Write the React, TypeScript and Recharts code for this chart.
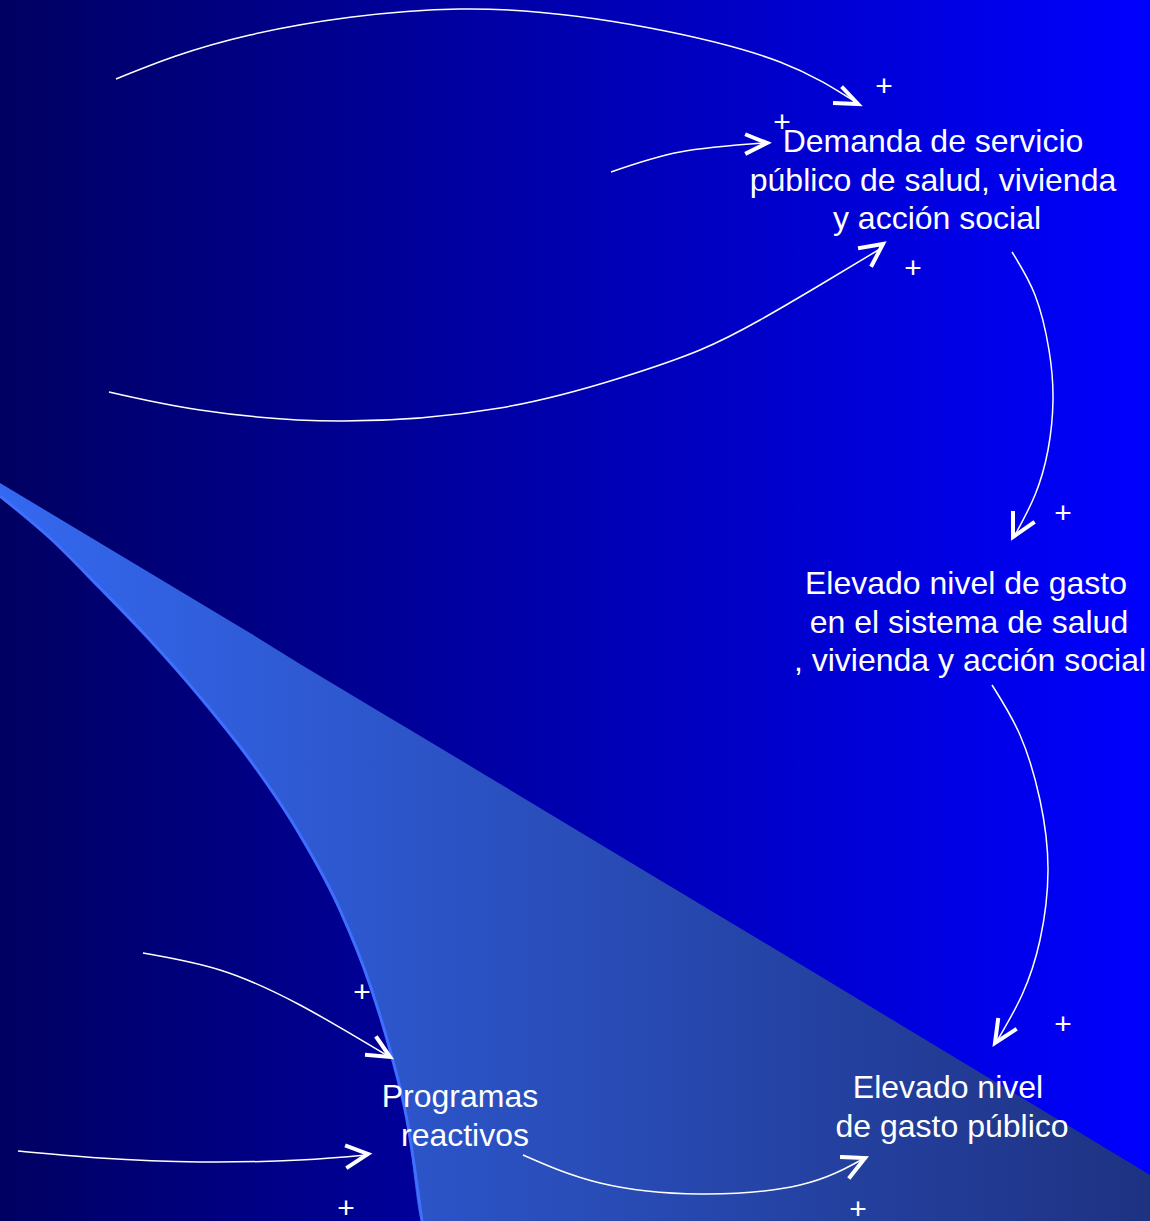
import React from 'react';
import { ComposedChart, Area, Line, Scatter, XAxis, YAxis } from 'recharts';

// wedge: x, top edge, bottom edge (px of the picture)
const wedgeX = [0, 50, 100, 150, 200, 250, 300, 340, 370, 390, 407, 422, 1150];
const wedgeTop = [483, 513, 543, 573, 603, 633, 664, 688, 706, 718, 728, 737, 1175];
const wedgeBottom = [496, 538, 588, 640, 697, 760, 835, 910, 985, 1050, 1120, 1221, 1221];

const links = [
  [[116, 79], [250, 35], [460, 9], [650, 28], [780, 62], [857, 103]],
  [[611, 172], [680, 152], [765, 143]],
  [[109, 392], [200, 410], [340, 421], [500, 408], [620, 378], [700, 350], [760, 320], [820, 285], [880, 249]],
  [[1012, 252], [1035, 295], [1049, 350], [1053, 400], [1048, 450], [1035, 495], [1015, 535]],
  [[992, 685], [1020, 735], [1040, 800], [1048, 870], [1040, 940], [1022, 995], [997, 1041]],
  [[143, 953], [220, 970], [300, 1005], [388, 1056]],
  [[18, 1151], [100, 1158], [200, 1162], [300, 1160], [366, 1155]],
  [[523, 1155], [600, 1183], [700, 1194], [800, 1185], [863, 1159]],
];

const heads = [
  [[843, 88], [858, 104], [835, 103]],
  [[747, 135], [767, 143], [747, 153]],
  [[860, 248], [883, 244], [872, 265]],
  [[1013, 513], [1013, 537], [1033, 523]],
  [[998, 1020], [995, 1043], [1015, 1030]],
  [[377, 1038], [390, 1057], [367, 1055]],
  [[347, 1146], [368, 1154], [348, 1167]],
  [[842, 1157], [865, 1158], [850, 1177]],
];

const nodeLabels = [
  { x: 933, y: 152, lines: ['Demanda de servicio', 'público de salud, vivienda', 'y acción social'], shift: [0, 0, 4] },
  { x: 968, y: 594, lines: ['Elevado nivel de gasto', 'en el sistema de salud', ', vivienda y acción social'], shift: [-2, 1, 2] },
  { x: 950, y: 1098, lines: ['Elevado nivel', 'de gasto público'], shift: [-2, 2] },
  { x: 462, y: 1107, lines: ['Programas', 'reactivos'], shift: [-2, 3] },
];

const plusSigns = [
  [884, 86], [782, 122], [913, 268], [1063, 513],
  [1063, 1024], [362, 992], [346, 1208], [858, 1209],
];

const wedgeData = wedgeX.map((x, i) => ({ x, range: [wedgeTop[i], wedgeBottom[i]] }));
const edgeData = wedgeX.slice(0, 12).map((x, i) => ({ x, y: wedgeBottom[i] }));
const toPts = (pts: number[][]) => pts.map(([x, y]) => ({ x, y }));
const plusData = plusSigns.map(([x, y]) => ({ x, y }));

const font = '"Liberation Sans", Arial, sans-serif';

const NodeText = (props: any) => {
  const { cx, cy, payload } = props;
  if (cx == null || cy == null) return null;
  return (
    <text x={cx} y={cy} fill="#fff" fontSize={32} fontFamily={font} textAnchor="middle">
      {payload.lines.map((l: string, i: number) => (
        <tspan key={i} x={cx + payload.shift[i]} dy={i === 0 ? 0 : 38.5}>{l}</tspan>
      ))}
    </text>
  );
};

const PlusText = (props: any) => {
  if (props.cx == null || props.cy == null) return null;
  return (
    <text x={props.cx} y={props.cy + 10} fill="#fff" fontSize={30} fontFamily={font} textAnchor="middle">+</text>
  );
};

export default function App() {
  return (
    <div style={{ width: 1150, height: 1221, background: 'linear-gradient(to right, #000062, #0000ff)' }}>
      <style>{'body{margin:0}'}</style>
      <ComposedChart width={1150} height={1221} margin={{ top: 0, right: 0, bottom: 0, left: 0 }}>
        <defs>
          <linearGradient id="wedgeFill" x1="0" y1="0" x2="1" y2="0">
            <stop offset="0%" stopColor="#3468f0" />
            <stop offset="100%" stopColor="#1e3282" />
          </linearGradient>
        </defs>
        <XAxis type="number" dataKey="x" domain={[0, 1150]} hide allowDataOverflow />
        <YAxis type="number" dataKey="y" domain={[0, 1221]} reversed hide allowDataOverflow />
        <Area data={wedgeData} dataKey="range" type="monotone" stroke="none" fill="url(#wedgeFill)" fillOpacity={1} dot={false} activeDot={false} legendType="none" isAnimationActive={false} />
        <Line data={edgeData} dataKey="y" type="monotone" stroke="#3f6fff" strokeWidth={3} dot={false} activeDot={false} isAnimationActive={false} />
        {links.map((pts, i) => (
          <Line key={'l' + i} data={toPts(pts)} dataKey="y" type="natural" stroke="#fff" strokeWidth={1.5} dot={false} activeDot={false} isAnimationActive={false} />
        ))}
        {heads.map((pts, i) => (
          <Line key={'h' + i} data={toPts(pts)} dataKey="y" type="linear" stroke="#fff" strokeWidth={4} strokeLinecap="square" dot={false} activeDot={false} isAnimationActive={false} />
        ))}
        <Scatter data={nodeLabels} dataKey="y" shape={NodeText} isAnimationActive={false} />
        <Scatter data={plusData} dataKey="y" shape={PlusText} isAnimationActive={false} />
      </ComposedChart>
    </div>
  );
}
